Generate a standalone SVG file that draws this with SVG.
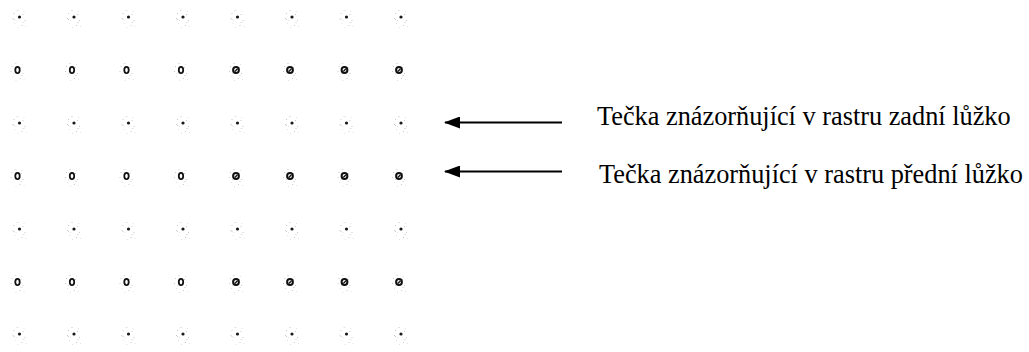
<svg xmlns="http://www.w3.org/2000/svg" xmlns:xlink="http://www.w3.org/1999/xlink" width="1029" height="352" viewBox="0 0 1029 352">
  <style>
    .label { font-family: "Liberation Serif", "Times New Roman", serif; font-size: 26.3px; fill: #000; }
    .arrow { stroke: #000; stroke-width: 2; fill: none; }
    .speck { fill: #c9c9c9; }
    .speck-lt { fill: #e2e2e2; }
  </style>
  <defs>
    <!-- faint raster noise around each point -->
    <g id="noise">
      <rect class="speck" x="-6" y="-4" width="1" height="1"/>
      <rect class="speck-lt" x="-3" y="-7" width="2" height="1"/>
      <rect class="speck-lt" x="4" y="-6" width="1" height="1"/>
      <rect class="speck" x="3" y="-3" width="1" height="1"/>
      <rect class="speck" x="5" y="3" width="1" height="1"/>
      <rect class="speck-lt" x="3" y="5" width="2" height="1"/>
      <rect class="speck-lt" x="-5" y="6" width="1" height="1"/>
      <rect class="speck" x="2" y="8" width="1" height="1"/>
      <rect class="speck-lt" x="-2" y="10" width="1" height="1"/>
      <rect class="speck-lt" x="6" y="9" width="1" height="1"/>
      <rect class="speck" x="-7" y="1" width="1" height="1"/>
      <rect class="speck-lt" x="-4" y="3" width="1" height="1"/>
    </g>
    <!-- back bed: small solid dot -->
    <g id="back">
      <use xlink:href="#noise"/>
      <circle cx="0" cy="0" r="1.6" fill="#1a1a1a"/>
      <rect class="speck" x="-6" y="2" width="1" height="1"/>
    </g>
    <!-- front bed: hollow oval -->
    <g id="front-a">
      <use xlink:href="#noise"/>
      <ellipse cx="0" cy="0" rx="2.2" ry="3.2" fill="#fff" stroke="#111" stroke-width="1.8"/>
    </g>
    <!-- front bed: round ring with a diagonal -->
    <g id="front-b">
      <use xlink:href="#noise"/>
      <circle cx="0" cy="0" r="2.9" fill="#fff" stroke="#111" stroke-width="2"/>
      <line x1="-1.2" y1="1.5" x2="1.5" y2="-1.2" stroke="#111" stroke-width="1.3"/>
    </g>
    <!-- filled triangular arrowhead, tip on the line end -->
    <marker id="head" viewBox="0 0 16 12" refX="15" refY="6" markerWidth="16" markerHeight="12" markerUnits="userSpaceOnUse" orient="auto">
      <path d="M16,6 L0,0 L0,12 Z" fill="#000"/>
    </marker>
  </defs>

  <rect width="1029" height="352" fill="#fff"/>

  <!-- raster of bed points -->
  <g id="raster">
    <g id="row-back-1">
      <use xlink:href="#back" x="19.5" y="17"/><use xlink:href="#back" x="74" y="17"/><use xlink:href="#back" x="128.5" y="17"/><use xlink:href="#back" x="183" y="17"/><use xlink:href="#back" x="237.5" y="17"/><use xlink:href="#back" x="292" y="17"/><use xlink:href="#back" x="346.5" y="17"/><use xlink:href="#back" x="401" y="17"/>
    </g>
    <g id="row-front-1">
      <use xlink:href="#front-a" x="17.5" y="70"/><use xlink:href="#front-a" x="72" y="70"/><use xlink:href="#front-a" x="126.5" y="70"/><use xlink:href="#front-a" x="181" y="70"/><use xlink:href="#front-b" x="236" y="70"/><use xlink:href="#front-b" x="290" y="70"/><use xlink:href="#front-b" x="344.5" y="70"/><use xlink:href="#front-b" x="399" y="70"/>
    </g>
    <g id="row-back-2">
      <use xlink:href="#back" x="19.5" y="123"/><use xlink:href="#back" x="74" y="123"/><use xlink:href="#back" x="128.5" y="123"/><use xlink:href="#back" x="183" y="123"/><use xlink:href="#back" x="237.5" y="123"/><use xlink:href="#back" x="292" y="123"/><use xlink:href="#back" x="346.5" y="123"/><use xlink:href="#back" x="401" y="123"/>
    </g>
    <g id="row-front-2">
      <use xlink:href="#front-a" x="17.5" y="176"/><use xlink:href="#front-a" x="72" y="176"/><use xlink:href="#front-a" x="126.5" y="176"/><use xlink:href="#front-a" x="181" y="176"/><use xlink:href="#front-b" x="236" y="176"/><use xlink:href="#front-b" x="290" y="176"/><use xlink:href="#front-b" x="344.5" y="176"/><use xlink:href="#front-b" x="399" y="176"/>
    </g>
    <g id="row-back-3">
      <use xlink:href="#back" x="19.5" y="229"/><use xlink:href="#back" x="74" y="229"/><use xlink:href="#back" x="128.5" y="229"/><use xlink:href="#back" x="183" y="229"/><use xlink:href="#back" x="237.5" y="229"/><use xlink:href="#back" x="292" y="229"/><use xlink:href="#back" x="346.5" y="229"/><use xlink:href="#back" x="401" y="229"/>
    </g>
    <g id="row-front-3">
      <use xlink:href="#front-a" x="17.5" y="282"/><use xlink:href="#front-a" x="72" y="282"/><use xlink:href="#front-a" x="126.5" y="282"/><use xlink:href="#front-a" x="181" y="282"/><use xlink:href="#front-b" x="236" y="282"/><use xlink:href="#front-b" x="290" y="282"/><use xlink:href="#front-b" x="344.5" y="282"/><use xlink:href="#front-b" x="399" y="282"/>
    </g>
    <g id="row-back-4">
      <use xlink:href="#back" x="19.5" y="334"/><use xlink:href="#back" x="74" y="334"/><use xlink:href="#back" x="128.5" y="334"/><use xlink:href="#back" x="183" y="334"/><use xlink:href="#back" x="237.5" y="334"/><use xlink:href="#back" x="292" y="334"/><use xlink:href="#back" x="346.5" y="334"/><use xlink:href="#back" x="401" y="334"/>
    </g>
  </g>

  <!-- pointer arrows -->
  <g id="connectors">
    <line class="arrow" x1="562" y1="122.5" x2="445" y2="122.5" marker-end="url(#head)"/>
    <line class="arrow" x1="562" y1="171.5" x2="445" y2="171.5" marker-end="url(#head)"/>
  </g>

  <!-- legend labels -->
  <g id="label-back">
    <text class="label" x="597" y="125">Tečka znázorňující v rastru zadní lůžko</text>
  </g>
  <g id="label-front">
    <text class="label" x="599" y="183">Tečka znázorňující v rastru přední lůžko</text>
  </g>
</svg>
